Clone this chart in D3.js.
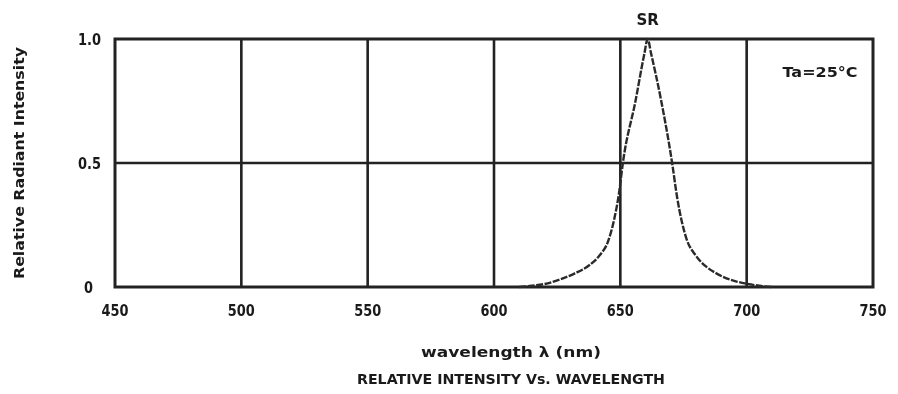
<!DOCTYPE html>
<html>
<head>
<meta charset="utf-8">
<script src="https://cdn.jsdelivr.net/npm/d3@7"></script>
<style>
  html, body { margin: 0; padding: 0; background: #fff; }
  svg { display: block; filter: blur(0.5px); }
  text { font-family: "DejaVu Sans", sans-serif; font-weight: bold; fill: #1a1a1a; }
</style>
</head>
<body>
<div id="chart"></div>
<script>
// spectrum (wavelength nm, relative intensity)
const wavelengths = [610, 615, 620, 626, 632, 638, 642, 645, 647.5, 649.5, 651, 656, 659.5, 660.8,
  662.2, 666, 670.5, 672.5, 676, 680, 684, 688, 692, 696, 700, 705, 710];
const intensity = [0, 0.005, 0.012, 0.03, 0.055, 0.09, 0.13, 0.18, 0.27, 0.38, 0.5, 0.75, 0.94, 1.0,
  0.94, 0.76, 0.5, 0.36, 0.2, 0.125, 0.082, 0.055, 0.035, 0.022, 0.013, 0.005, 0];

const xTicks = [450, 500, 550, 600, 650, 700, 750];
const yTicks = [0, 0.5, 1.0];
const yTickLabels = ["0", "0.5", "1.0"];

const W = 898, H = 394;
const margin = { top: 39, right: 25, bottom: 107, left: 115 };

const svg = d3.select("#chart").append("svg")
  .attr("width", W)
  .attr("height", H);

const x = d3.scaleLinear().domain([450, 750]).range([margin.left, W - margin.right]);
const y = d3.scaleLinear().domain([0, 1]).range([H - margin.bottom, margin.top]);

const ink = "#222";

// grid
svg.append("g").selectAll("line.v")
  .data(xTicks.slice(1, -1))
  .join("line")
  .attr("x1", d => x(d)).attr("x2", d => x(d))
  .attr("y1", y(1)).attr("y2", y(0))
  .attr("stroke", ink).attr("stroke-width", 2.6);

svg.append("g").selectAll("line.h")
  .data([0.5])
  .join("line")
  .attr("x1", x(450)).attr("x2", x(750))
  .attr("y1", d => y(d)).attr("y2", d => y(d))
  .attr("stroke", ink).attr("stroke-width", 2.6);

// frame
svg.append("rect")
  .attr("x", x(450)).attr("y", y(1))
  .attr("width", x(750) - x(450)).attr("height", y(0) - y(1))
  .attr("fill", "none").attr("stroke", ink).attr("stroke-width", 3);

// curve
const line = d3.line()
  .x((d, i) => x(wavelengths[i]))
  .y(d => y(d))
  .curve(d3.curveMonotoneX);

svg.append("path")
  .datum(intensity)
  .attr("d", line)
  .attr("fill", "none")
  .attr("stroke", "#2a2a2a")
  .attr("stroke-width", 2.4)
  .attr("stroke-dasharray", "7,1.5");

// tick labels
svg.append("g").selectAll("text")
  .data(xTicks)
  .join("text")
  .attr("x", d => x(d))
  .attr("y", y(0) + 29)
  .attr("text-anchor", "middle")
  .style("font-size", "15px")
  .attr("textLength", 27)
  .attr("lengthAdjust", "spacingAndGlyphs")
  .text(d => d);

svg.append("g").selectAll("text")
  .data(yTicks)
  .join("text")
  .attr("x", (d, i) => i === 0 ? 93 : 101)
  .attr("y", d => y(d) + 6)
  .attr("text-anchor", "end")
  .style("font-size", "15px")
  .attr("textLength", (d, i) => i === 0 ? 9 : 23)
  .attr("lengthAdjust", "spacingAndGlyphs")
  .text((d, i) => yTickLabels[i]);

// axis titles
svg.append("text")
  .attr("transform", `translate(24, ${(y(0) + y(1)) / 2}) rotate(-90)`)
  .attr("text-anchor", "middle")
  .style("font-size", "14px")
  .attr("textLength", 232)
  .attr("lengthAdjust", "spacingAndGlyphs")
  .text("Relative Radiant Intensity");

svg.append("text")
  .attr("x", 511).attr("y", 357)
  .attr("text-anchor", "middle")
  .style("font-size", "14px")
  .attr("textLength", 180)
  .attr("lengthAdjust", "spacingAndGlyphs")
  .text("wavelength \u03bb (nm)");

svg.append("text")
  .attr("x", 511).attr("y", 384)
  .attr("text-anchor", "middle")
  .style("font-size", "14px")
  .attr("textLength", 308)
  .attr("lengthAdjust", "spacingAndGlyphs")
  .text("RELATIVE INTENSITY Vs. WAVELENGTH");

// annotations
svg.append("text")
  .attr("x", x(660.8)).attr("y", 25)
  .attr("text-anchor", "middle")
  .style("font-size", "15px")
  .text("SR");

svg.append("text")
  .attr("x", 820).attr("y", 77)
  .attr("text-anchor", "middle")
  .style("font-size", "14px")
  .attr("textLength", 75)
  .attr("lengthAdjust", "spacingAndGlyphs")
  .text("Ta=25\u00b0C");
</script>
</body>
</html>
